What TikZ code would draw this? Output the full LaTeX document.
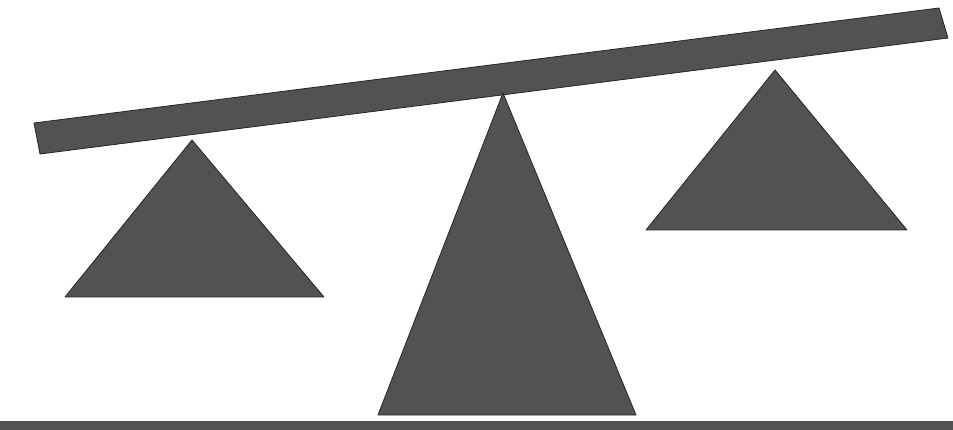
\documentclass[tikz,border=0pt]{standalone}
\definecolor{ink}{gray}{0.32}
\tikzset{solidpart/.style={fill=ink,draw=black!85,line width=0.8pt,line join=round}}
\begin{document}
\begin{tikzpicture}[x=1pt,y=-1pt]
\useasboundingbox (0,0) rectangle (953,430);
% ground
\fill[ink] (0,421) rectangle (953,430);
% beam
\path[solidpart] (34,123) -- (939,8) -- (948,38) -- (40,154) -- cycle;
% left triangle
\path[solidpart] (192,140) -- (324,297) -- (65,297) -- cycle;
% middle triangle (fulcrum)
\path[solidpart] (503,93) -- (636,415) -- (378,415) -- cycle;
% right triangle
\path[solidpart] (775,70) -- (907,230) -- (646,230) -- cycle;
\end{tikzpicture}
\end{document}
